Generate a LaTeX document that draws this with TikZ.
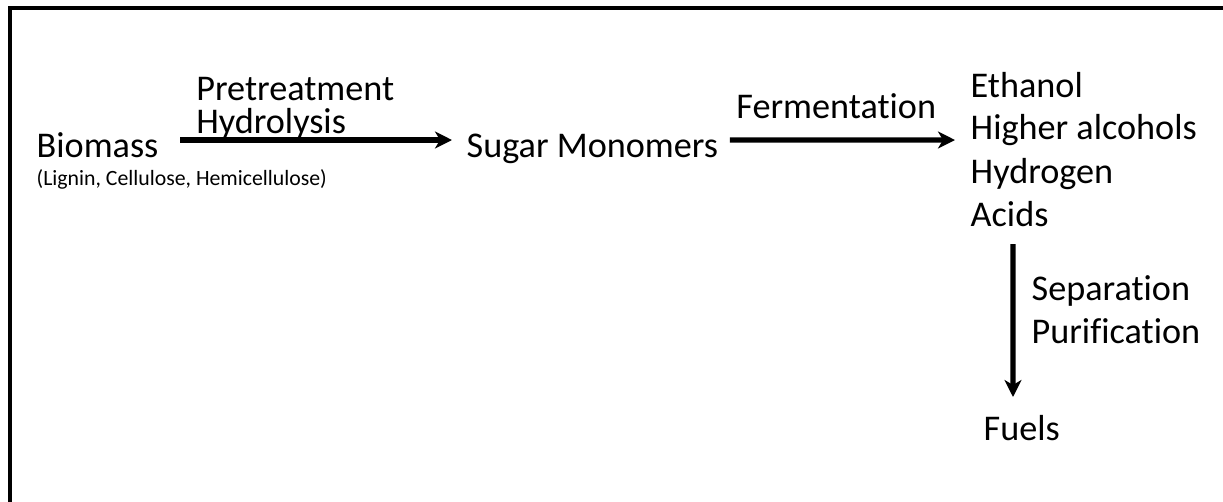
\documentclass[tikz,border=0pt]{standalone}
\usepackage{fontspec}
\setmainfont{Carlito}[Ligatures=NoCommon]
\usepackage{tikz}
\usetikzlibrary{positioning,arrows.meta}

\begin{document}
\begin{tikzpicture}[>={Stealth[length=1.7mm,width=1.7mm,inset=0.5mm]},
  txt/.style={inner sep=0pt,font=\fontsize{10.3}{12.5}\selectfont,align=left},
  flow/.style={->,line width=1.5pt}]
\useasboundingbox (0,0) rectangle (12.23,5.01);
\draw[line width=0.9pt] (0.10,-1) -- (0.10,4.93) -- (13,4.93);
\node[txt,anchor=base west] (bio) at (0.36,3.44) {Biomass};
\node[txt,anchor=base west,font=\fontsize{6.2}{7.4}\selectfont] (parts) at (0.36,3.16) {(Lignin, Cellulose, Hemicellulose)};
\node[txt,anchor=base west] (sugar) at (4.66,3.44) {Sugar Monomers};
\node[txt,anchor=base west] (eth) at (9.70,4.04) {Ethanol};
\node[txt,anchor=base west] (alc) at (9.70,3.62) {Higher alcohols};
\node[txt,anchor=base west] (hyd) at (9.70,3.18) {Hydrogen};
\node[txt,anchor=base west] (acid) at (9.70,2.75) {Acids};
\node[txt,anchor=base west] (fuel) at (9.83,0.61) {Fuels};
\draw[flow] ([xshift=2.1mm,yshift=1.7mm]bio.base east) -- ([xshift=-1.4mm,yshift=1.7mm]sugar.base west)
  node[txt,pos=0.05,anchor=south west,yshift=-0.2mm,font=\fontsize{10.3}{9.4}\selectfont]{Pretreatment\\Hydrolysis};
\draw[flow] ([xshift=1.1mm,yshift=1.7mm]sugar.base east) -- ([xshift=-1.5mm,yshift=-0.1mm]alc.base west)
  node[txt,pos=0,anchor=base west,xshift=0.4mm,yshift=2.2mm]{Fermentation};
\draw[flow] ([xshift=4.3mm,yshift=-1.8mm]acid.base west) -- ([xshift=3.0mm,yshift=4.3mm]fuel.base west)
  node[txt,midway,anchor=north west,xshift=1.6mm,yshift=4.8mm]{Separation\\Purification};
\end{tikzpicture}
\end{document}
